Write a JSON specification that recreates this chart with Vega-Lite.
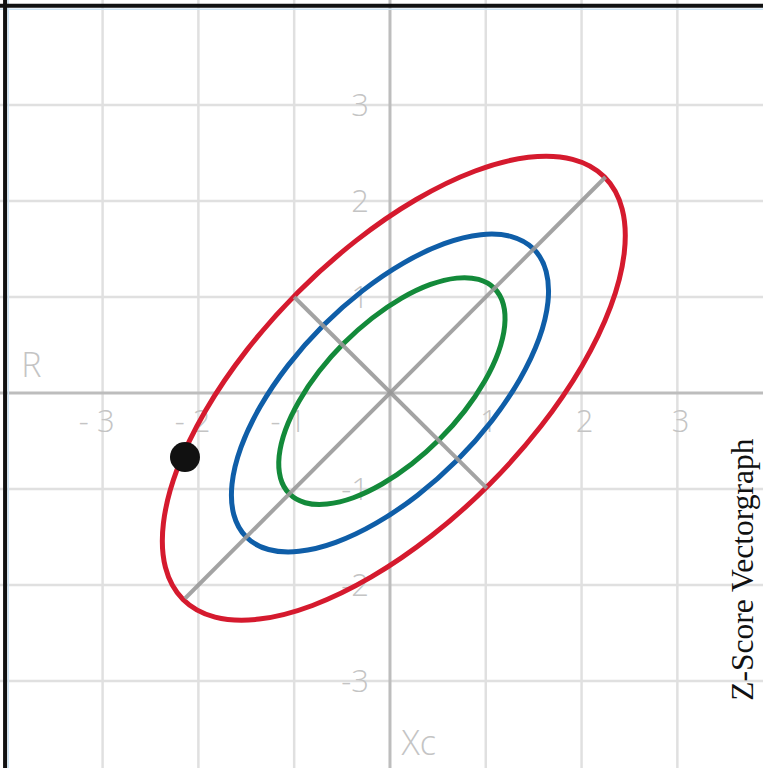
{
  "$schema": "https://vega.github.io/schema/vega-lite/v6.json",
  "width": 763,
  "height": 768,
  "padding": 0,
  "autosize": {"type": "none"},
  "background": "white",
  "config": {"view": {"stroke": null}},
  "datasets": {
    "ellipses": [
      {"s": "red", "o": 0, "x": 2.24, "y": 2.25},
      {"s": "red", "o": 1, "x": 1.906, "y": 2.434},
      {"s": "red", "o": 2, "x": 1.445, "y": 2.455},
      {"s": "red", "o": 3, "x": 0.889, "y": 2.313},
      {"s": "red", "o": 4, "x": 0.274, "y": 2.016},
      {"s": "red", "o": 5, "x": -0.357, "y": 1.585},
      {"s": "red", "o": 6, "x": -0.96, "y": 1.05},
      {"s": "red", "o": 7, "x": -1.495, "y": 0.447},
      {"s": "red", "o": 8, "x": -1.926, "y": -0.184},
      {"s": "red", "o": 9, "x": -2.223, "y": -0.799},
      {"s": "red", "o": 10, "x": -2.365, "y": -1.355},
      {"s": "red", "o": 11, "x": -2.344, "y": -1.816},
      {"s": "red", "o": 12, "x": -2.16, "y": -2.15},
      {"s": "red", "o": 13, "x": -1.826, "y": -2.334},
      {"s": "red", "o": 14, "x": -1.365, "y": -2.355},
      {"s": "red", "o": 15, "x": -0.809, "y": -2.213},
      {"s": "red", "o": 16, "x": -0.194, "y": -1.916},
      {"s": "red", "o": 17, "x": 0.437, "y": -1.485},
      {"s": "red", "o": 18, "x": 1.04, "y": -0.95},
      {"s": "red", "o": 19, "x": 1.575, "y": -0.347},
      {"s": "red", "o": 20, "x": 2.006, "y": 0.284},
      {"s": "red", "o": 21, "x": 2.303, "y": 0.899},
      {"s": "red", "o": 22, "x": 2.445, "y": 1.455},
      {"s": "red", "o": 23, "x": 2.424, "y": 1.916},
      {"s": "blue", "o": 0, "x": 1.5, "y": 1.5},
      {"s": "blue", "o": 1, "x": 1.268, "y": 1.63},
      {"s": "blue", "o": 2, "x": 0.949, "y": 1.649},
      {"s": "blue", "o": 3, "x": 0.566, "y": 1.556},
      {"s": "blue", "o": 4, "x": 0.144, "y": 1.356},
      {"s": "blue", "o": 5, "x": -0.288, "y": 1.064},
      {"s": "blue", "o": 6, "x": -0.7, "y": 0.7},
      {"s": "blue", "o": 7, "x": -1.064, "y": 0.288},
      {"s": "blue", "o": 8, "x": -1.356, "y": -0.144},
      {"s": "blue", "o": 9, "x": -1.556, "y": -0.566},
      {"s": "blue", "o": 10, "x": -1.649, "y": -0.949},
      {"s": "blue", "o": 11, "x": -1.63, "y": -1.268},
      {"s": "blue", "o": 12, "x": -1.5, "y": -1.5},
      {"s": "blue", "o": 13, "x": -1.268, "y": -1.63},
      {"s": "blue", "o": 14, "x": -0.949, "y": -1.649},
      {"s": "blue", "o": 15, "x": -0.566, "y": -1.556},
      {"s": "blue", "o": 16, "x": -0.144, "y": -1.356},
      {"s": "blue", "o": 17, "x": 0.288, "y": -1.064},
      {"s": "blue", "o": 18, "x": 0.7, "y": -0.7},
      {"s": "blue", "o": 19, "x": 1.064, "y": -0.288},
      {"s": "blue", "o": 20, "x": 1.356, "y": 0.144},
      {"s": "blue", "o": 21, "x": 1.556, "y": 0.566},
      {"s": "blue", "o": 22, "x": 1.649, "y": 0.949},
      {"s": "blue", "o": 23, "x": 1.63, "y": 1.268},
      {"s": "green", "o": 0, "x": 1.09, "y": 1.09},
      {"s": "green", "o": 1, "x": 0.925, "y": 1.183},
      {"s": "green", "o": 2, "x": 0.697, "y": 1.197},
      {"s": "green", "o": 3, "x": 0.423, "y": 1.131},
      {"s": "green", "o": 4, "x": 0.122, "y": 0.988},
      {"s": "green", "o": 5, "x": -0.186, "y": 0.78},
      {"s": "green", "o": 6, "x": -0.48, "y": 0.52},
      {"s": "green", "o": 7, "x": -0.74, "y": 0.226},
      {"s": "green", "o": 8, "x": -0.948, "y": -0.082},
      {"s": "green", "o": 9, "x": -1.091, "y": -0.383},
      {"s": "green", "o": 10, "x": -1.157, "y": -0.657},
      {"s": "green", "o": 11, "x": -1.143, "y": -0.885},
      {"s": "green", "o": 12, "x": -1.05, "y": -1.05},
      {"s": "green", "o": 13, "x": -0.885, "y": -1.143},
      {"s": "green", "o": 14, "x": -0.657, "y": -1.157},
      {"s": "green", "o": 15, "x": -0.383, "y": -1.091},
      {"s": "green", "o": 16, "x": -0.082, "y": -0.948},
      {"s": "green", "o": 17, "x": 0.226, "y": -0.74},
      {"s": "green", "o": 18, "x": 0.52, "y": -0.48},
      {"s": "green", "o": 19, "x": 0.78, "y": -0.186},
      {"s": "green", "o": 20, "x": 0.988, "y": 0.122},
      {"s": "green", "o": 21, "x": 1.131, "y": 0.423},
      {"s": "green", "o": 22, "x": 1.197, "y": 0.697},
      {"s": "green", "o": 23, "x": 1.183, "y": 0.925}
    ],
    "vectors": [
      {"x": -2.14, "y": -2.14, "x2": 2.25, "y2": 2.25},
      {"x": -1.0, "y": 1.0, "x2": 1.01, "y2": -0.99}
    ],
    "gridx": [{"v": -3}, {"v": -2}, {"v": -1}, {"v": 1}, {"v": 2}, {"v": 3}],
    "xlabels": [
      {"v": -3, "t": "- 3"}, {"v": -2, "t": "- 2"}, {"v": -1, "t": "- 1"},
      {"v": 1, "t": "1"}, {"v": 2, "t": "2"}, {"v": 3, "t": "3"}
    ],
    "ylabels": [
      {"v": 3, "t": "3"}, {"v": 2, "t": "2"}, {"v": 1, "t": "1"},
      {"v": -1, "t": "-1"}, {"v": -2, "t": "-2"}, {"v": -3, "t": "-3"}
    ],
    "axistitles": [
      {"x": -3.85, "y": 0.27, "t": "R"},
      {"x": 0.12, "y": -3.67, "t": "Xc"}
    ],
    "point": [{"x": -2.14, "y": -0.667}],
    "title": [{"x": 3.7, "y": -1.84, "t": "Z-Score Vectorgraph"}],
    "frame": [{"xv": -4.018, "yv": 4.035}],
    "inner": [{"xv": -3.985, "yv": 3.998}],
    "zero": [{"v": 0}]
  },
  "layer": [
    {
      "data": {"name": "gridx"},
      "mark": {"type": "rule", "color": "#e0e0e0", "strokeWidth": 2.5},
      "encoding": {
        "x": {"field": "v", "type": "quantitative", "scale": {"domain": [-4.071, 3.894], "nice": false, "zero": false}, "axis": null}
      }
    },
    {
      "data": {"name": "gridx"},
      "mark": {"type": "rule", "color": "#e0e0e0", "strokeWidth": 2.5},
      "encoding": {
        "y": {"field": "v", "type": "quantitative", "scale": {"domain": [-3.906, 4.094], "nice": false, "zero": false}, "axis": null}
      }
    },
    {
      "data": {"name": "zero"},
      "mark": {"type": "rule", "color": "#bdbdbd", "strokeWidth": 3},
      "encoding": {"x": {"field": "v", "type": "quantitative"}}
    },
    {
      "data": {"name": "zero"},
      "mark": {"type": "rule", "color": "#bdbdbd", "strokeWidth": 3},
      "encoding": {"y": {"field": "v", "type": "quantitative"}}
    },
    {
      "data": {"name": "xlabels"},
      "mark": {"type": "text", "align": "right", "baseline": "middle", "dx": 12, "fontSize": 31, "font": "Open Sans", "fontWeight": 300, "color": "#c4c4c4"},
      "encoding": {
        "x": {"field": "v", "type": "quantitative"},
        "y": {"datum": -0.31},
        "text": {"field": "t"}
      }
    },
    {
      "data": {"name": "ylabels"},
      "mark": {"type": "text", "align": "right", "baseline": "middle", "dy": 2, "fontSize": 31, "font": "Open Sans", "fontWeight": 300, "color": "#c4c4c4"},
      "encoding": {
        "x": {"datum": -0.22},
        "y": {"field": "v", "type": "quantitative"},
        "text": {"field": "t"}
      }
    },
    {
      "data": {"name": "axistitles"},
      "mark": {"type": "text", "align": "left", "baseline": "middle", "fontSize": 34, "font": "Open Sans", "fontWeight": 300, "color": "#c4c4c4"},
      "encoding": {
        "x": {"field": "x", "type": "quantitative"},
        "y": {"field": "y", "type": "quantitative"},
        "text": {"field": "t"}
      }
    },
    {
      "data": {"name": "ellipses"},
      "mark": {"type": "line", "interpolate": "cardinal-closed", "strokeWidth": 5},
      "encoding": {
        "x": {"field": "x", "type": "quantitative"},
        "y": {"field": "y", "type": "quantitative"},
        "order": {"field": "o", "type": "quantitative"},
        "color": {"field": "s", "type": "nominal", "scale": {"domain": ["red", "blue", "green"], "range": ["#d51a2e", "#0f5ea8", "#138a3a"]}, "legend": null}
      }
    },
    {
      "data": {"name": "vectors"},
      "mark": {"type": "rule", "color": "#999999", "strokeWidth": 4, "opacity": 0.9},
      "encoding": {
        "x": {"field": "x", "type": "quantitative"},
        "y": {"field": "y", "type": "quantitative"},
        "x2": {"field": "x2"},
        "y2": {"field": "y2"}
      }
    },
    {
      "data": {"name": "point"},
      "mark": {"type": "circle", "size": 900, "color": "#111111", "opacity": 1},
      "encoding": {
        "x": {"field": "x", "type": "quantitative"},
        "y": {"field": "y", "type": "quantitative"}
      }
    },
    {
      "data": {"name": "title"},
      "mark": {"type": "text", "angle": 270, "align": "center", "baseline": "middle", "fontSize": 31.5, "font": "Liberation Serif", "color": "#111111"},
      "encoding": {
        "x": {"field": "x", "type": "quantitative"},
        "y": {"field": "y", "type": "quantitative"},
        "text": {"field": "t"}
      }
    },
    {
      "data": {"name": "inner"},
      "mark": {"type": "rule", "color": "#cde4f4", "strokeWidth": 1.5},
      "encoding": {"x": {"field": "xv", "type": "quantitative"}}
    },
    {
      "data": {"name": "inner"},
      "mark": {"type": "rule", "color": "#cde4f4", "strokeWidth": 1.5},
      "encoding": {"y": {"field": "yv", "type": "quantitative"}}
    },
    {
      "data": {"name": "frame"},
      "mark": {"type": "rule", "color": "#111111", "strokeWidth": 4},
      "encoding": {"x": {"field": "xv", "type": "quantitative"}}
    },
    {
      "data": {"name": "frame"},
      "mark": {"type": "rule", "color": "#111111", "strokeWidth": 4},
      "encoding": {"y": {"field": "yv", "type": "quantitative"}}
    }
  ]
}
